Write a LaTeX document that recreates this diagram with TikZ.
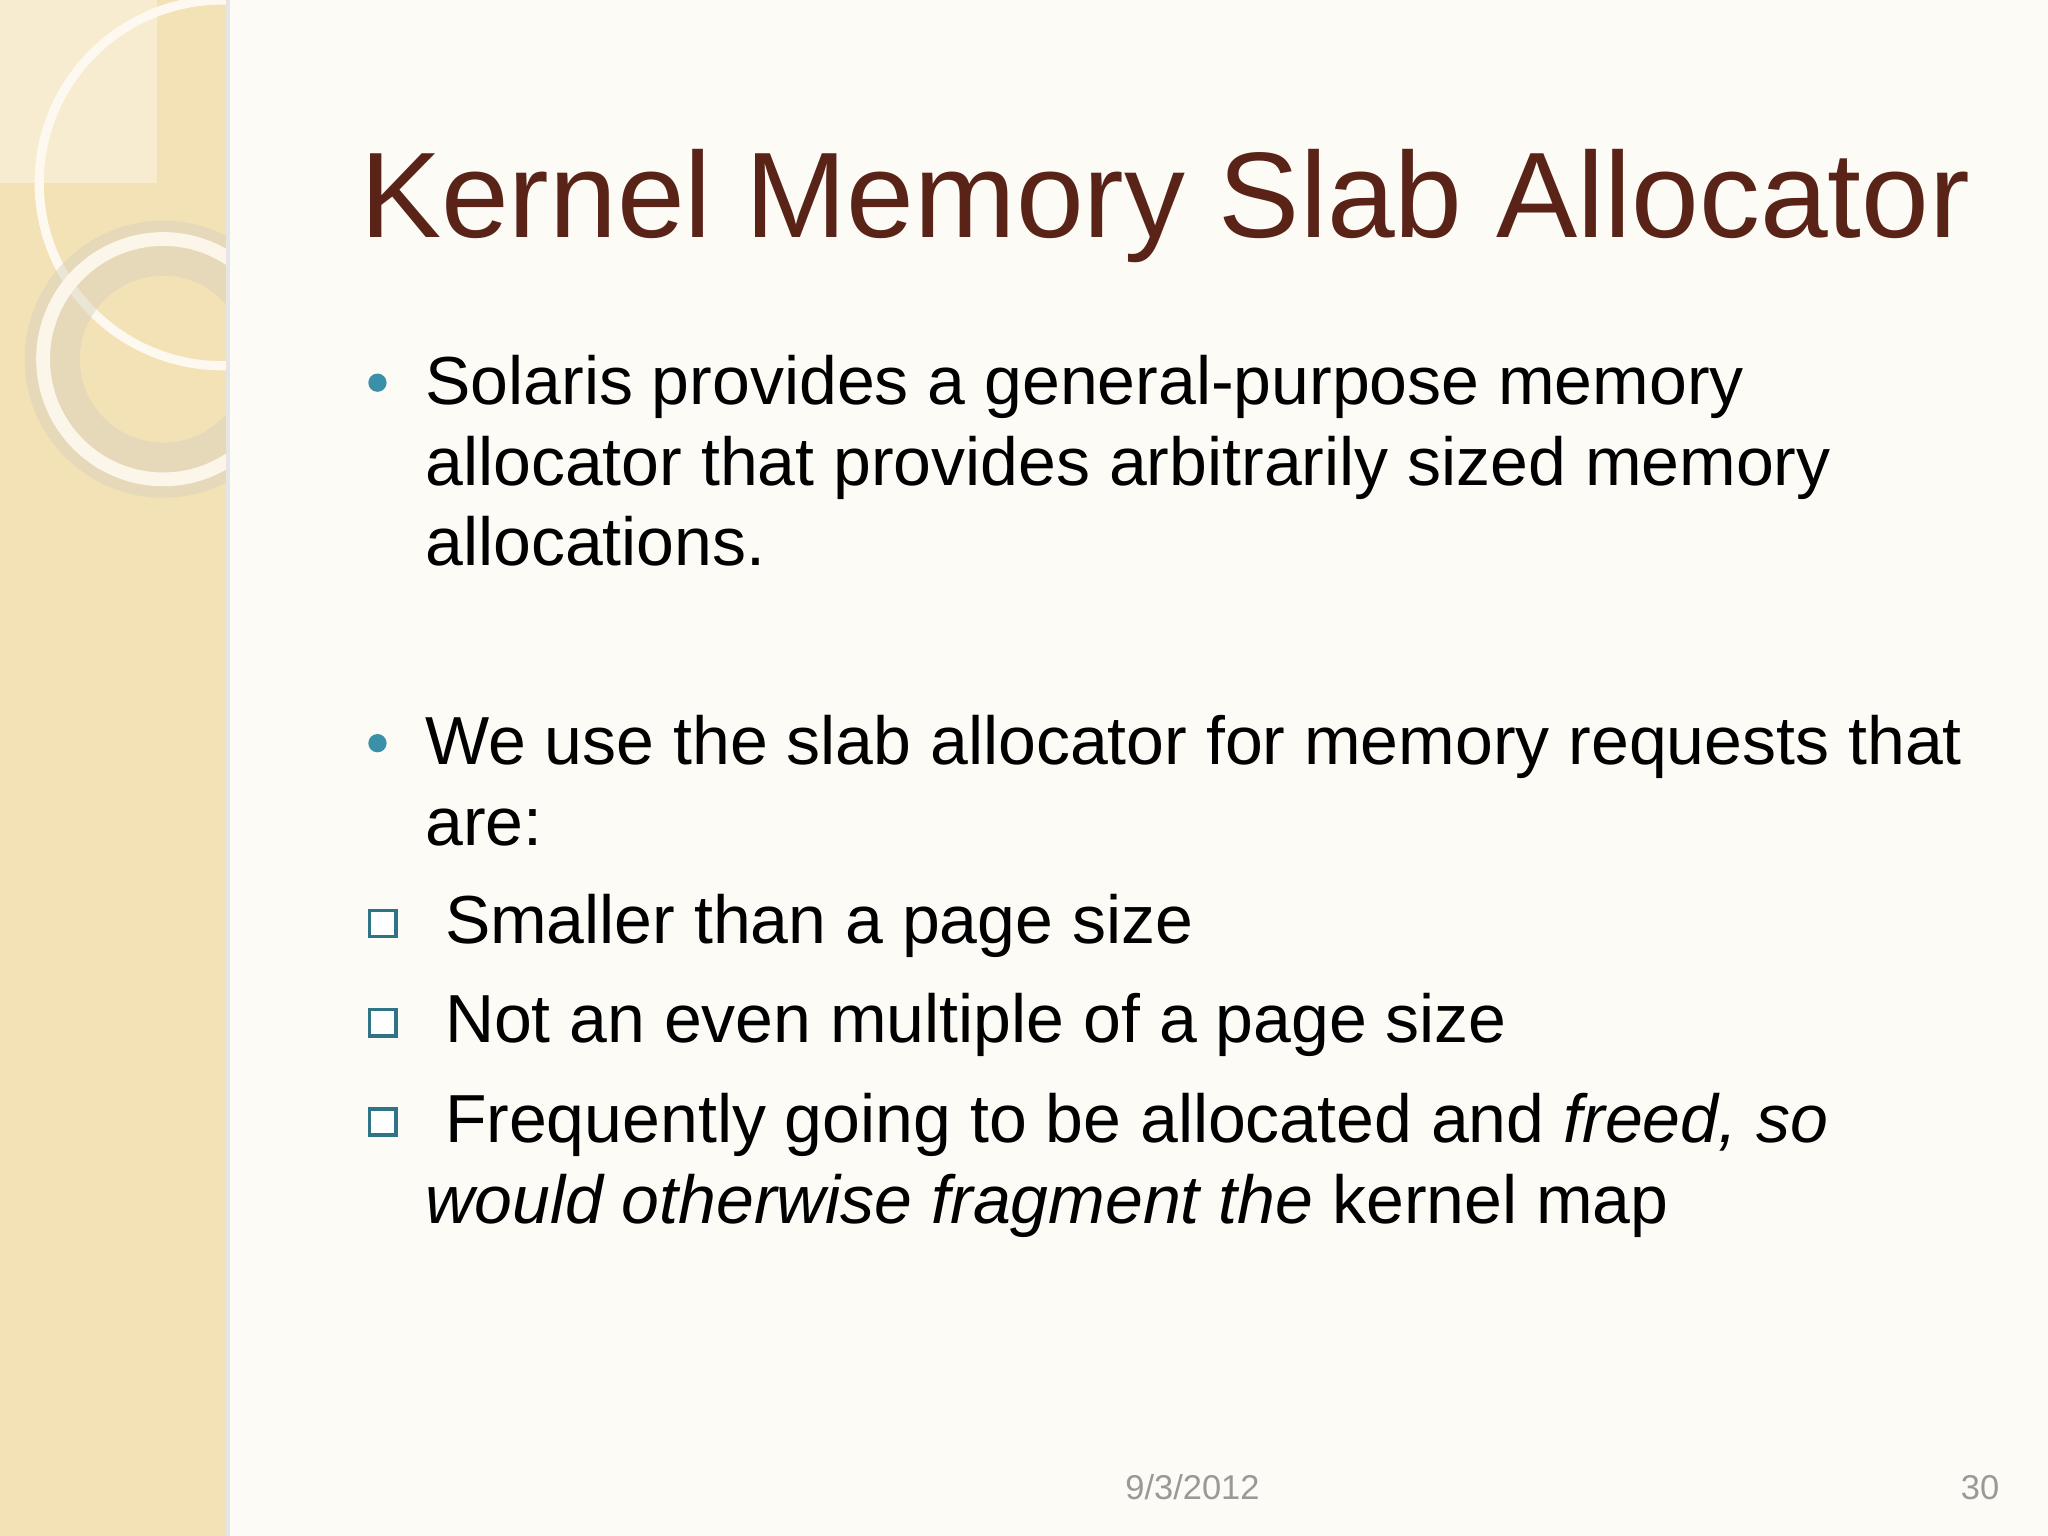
\documentclass[tikz,border=0pt]{standalone}
\usepackage{fontspec}
\setmainfont{Liberation Sans}
\definecolor{titlec}{HTML}{5A2318}
\definecolor{teal}{HTML}{3A90A8}
\definecolor{panel}{HTML}{F3E2B6}
\definecolor{bg}{HTML}{FCFBF6}
\begin{document}
\begin{tikzpicture}[x=0.01cm,y=-0.01cm,
  body/.style={anchor=base west,inner sep=0,font=\fontsize{14.8pt}{17pt}\selectfont},
  dot/.style={circle,fill=teal,inner sep=0,minimum size=0.14cm},
  sq/.style={draw=teal!80!black,line width=0.8pt,fill=white,minimum size=0.2cm,inner sep=0},
  foot/.style={anchor=base,inner sep=0,text=black!40,font=\fontsize{7.5pt}{9pt}\selectfont}]
\useasboundingbox (0,0) rectangle (1568,1176);
\fill[bg] (0,0) rectangle (1568,1176);
\fill[panel] (0,0) rectangle (173,1176);
\fill[black!10] (173,0) rectangle (176,1176);
\begin{scope}
\clip (0,0) rectangle (173,1176);
\fill[white,opacity=0.35] (0,0) rectangle (120,140);
\draw[white!80!panel,line width=2pt] (170,140) circle (140);
\draw[panel!80!black!60,line width=12pt,opacity=0.5] (125,275) circle (85);
\draw[white!70!panel,line width=3pt] (125,275) circle (92);
\end{scope}
\node[anchor=base west,inner sep=0,text=titlec,font=\fontsize{26.5pt}{30pt}\selectfont] (title) at (275,182) {Kernel Memory Slab Allocator};
\node[dot] (b1) at (289,293) {};
\node[body] (l1) at (325,310) {Solaris provides a general-purpose memory};
\node[body] (l2) at (325,372) {allocator that provides arbitrarily sized memory};
\node[body] (l3) at (325,433) {allocations.};
\node[dot] (b2) at (289,569) {};
\node[body] (l4) at (325,585) {We use the slab allocator for memory requests that};
\node[body] (l5) at (325,647) {are:};
\node[sq] (s1) at (293,707) {};
\node[body] (l6) at (340,722) {Smaller than a page size};
\node[sq] (s2) at (293,783) {};
\node[body] (l7) at (340,798) {Not an even multiple of a page size};
\node[sq] (s3) at (293,859) {};
\node[body] (l8) at (340,875) {Frequently going to be allocated and \textit{freed, so}};
\node[body] (l9) at (325,937) {\textit{would otherwise fragment the} kernel map};
\node[foot] (date) at (913,1148) {9/3/2012};
\node[foot] (num) at (1516,1148) {30};
\end{tikzpicture}
\end{document}
